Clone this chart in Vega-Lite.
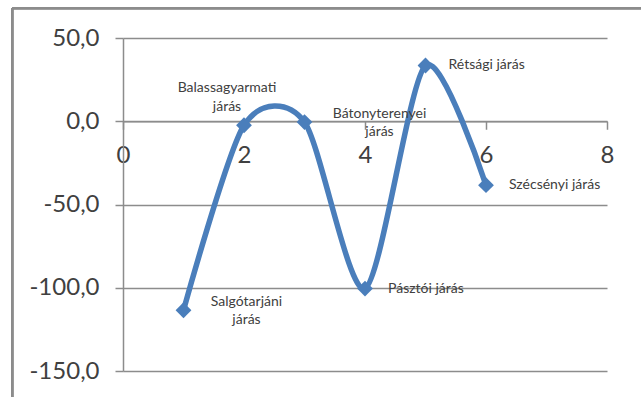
{
  "$schema": "https://vega.github.io/schema/vega-lite/v6.json",
  "width": 484,
  "height": 333,
  "autosize": {"type": "none"},
  "padding": {"left": 123, "top": 38, "right": 34, "bottom": 26},
  "background": "white",
  "config": {
    "view": {"stroke": null},
    "font": "Lato"
  },
  "data": {
    "values": [
      {"x": 1, "y": -113.5, "label": "Salgótarjáni\njárás"},
      {"x": 2, "y": -2.4, "label": "Balassagyarmati\njárás"},
      {"x": 3, "y": -0.5, "label": "Bátonyterenyei\njárás"},
      {"x": 4, "y": -100.5, "label": "Pásztói járás"},
      {"x": 5, "y": 33.5, "label": "Rétsági járás"},
      {"x": 6, "y": -38.4, "label": "Szécsényi járás"}
    ]
  },
  "layer": [
    {
      "mark": {"type": "rule", "stroke": "#8c8c8c", "strokeWidth": 2},
      "encoding": {
        "x": {"datum": -1.83, "type": "quantitative", "scale": {"domain": [0, 8], "nice": false}},
        "x2": {"datum": 8.7},
        "y": {"datum": 67.8, "type": "quantitative", "scale": {"domain": [-150, 50], "nice": false}}
      }
    },
    {
      "mark": {"type": "rule", "stroke": "#8c8c8c", "strokeWidth": 2},
      "encoding": {
        "x": {"datum": -1.83, "type": "quantitative"},
        "y": {"datum": 67.8, "type": "quantitative"},
        "y2": {"datum": -170}
      }
    },
    {
      "mark": {"type": "line", "interpolate": "cardinal", "tension": 0.2, "color": "#4a7ebb", "strokeWidth": 5.5, "strokeCap": "round"},
      "encoding": {
        "x": {
          "field": "x", "type": "quantitative",
          "scale": {"domain": [0, 8], "nice": false, "zero": false},
          "axis": {
            "orient": "bottom",
            "offset": -249.75,
            "values": [0, 2, 4, 6, 8],
            "format": "d",
            "grid": false,
            "domainColor": "#8c8c8c",
            "domainWidth": 1.5,
            "tickColor": "#8c8c8c",
            "tickWidth": 1.5,
            "tickSize": 8,
            "labelPadding": 14,
            "labelFont": "Lato",
            "labelFontSize": 24,
            "labelColor": "#404040",
            "labelFlush": false,
            "labelOverlap": false,
            "title": null
          }
        },
        "y": {
          "field": "y", "type": "quantitative",
          "scale": {"domain": [-150, 50], "nice": false, "zero": false},
          "axis": {
            "values": [-150, -100, -50, 0, 50],
            "labelExpr": "replace(replace(format(datum.value, '.1f'), '.', ','), '\u2212', '-')",
            "grid": true,
            "gridColor": "#8c8c8c",
            "gridWidth": 1.5,
            "domainColor": "#8c8c8c",
            "domainWidth": 1.5,
            "tickColor": "#8c8c8c",
            "tickWidth": 1.5,
            "tickSize": 8,
            "labelPadding": 16,
            "labelFont": "Lato",
            "labelFontSize": 24,
            "labelColor": "#404040",
            "labelFlush": false,
            "labelOverlap": false,
            "title": null
          }
        },
        "order": {"field": "x"}
      }
    },
    {
      "mark": {"type": "point", "shape": "diamond", "filled": true, "color": "#4a7ebb", "size": 250, "opacity": 1},
      "encoding": {
        "x": {"field": "x", "type": "quantitative"},
        "y": {"field": "y", "type": "quantitative"}
      }
    },
    {
      "transform": [{"filter": "datum.x >= 4"}],
      "mark": {"type": "text", "align": "left", "baseline": "middle", "dx": 23, "font": "Lato", "fontSize": 14, "color": "#404040"},
      "encoding": {
        "x": {"field": "x", "type": "quantitative"},
        "y": {"field": "y", "type": "quantitative"},
        "text": {"field": "label"}
      }
    },
    {
      "transform": [{"filter": "datum.x == 1"}],
      "mark": {"type": "text", "align": "center", "baseline": "middle", "dx": 63, "dy": -8, "lineBreak": "\n", "lineHeight": 18, "font": "Lato", "fontSize": 14, "color": "#404040"},
      "encoding": {
        "x": {"field": "x", "type": "quantitative"},
        "y": {"field": "y", "type": "quantitative"},
        "text": {"field": "label"}
      }
    },
    {
      "transform": [{"filter": "datum.x == 3"}],
      "mark": {"type": "text", "align": "center", "baseline": "middle", "dx": 75, "dy": -8, "lineBreak": "\n", "lineHeight": 18, "font": "Lato", "fontSize": 14, "color": "#404040"},
      "encoding": {
        "x": {"field": "x", "type": "quantitative"},
        "y": {"field": "y", "type": "quantitative"},
        "text": {"field": "label"}
      }
    },
    {
      "transform": [{"filter": "datum.x == 2"}],
      "mark": {"type": "text", "align": "center", "baseline": "middle", "dx": -17, "dy": -37, "lineBreak": "\n", "lineHeight": 19, "font": "Lato", "fontSize": 14, "color": "#404040"},
      "encoding": {
        "x": {"field": "x", "type": "quantitative"},
        "y": {"field": "y", "type": "quantitative"},
        "text": {"field": "label"}
      }
    }
  ]
}
